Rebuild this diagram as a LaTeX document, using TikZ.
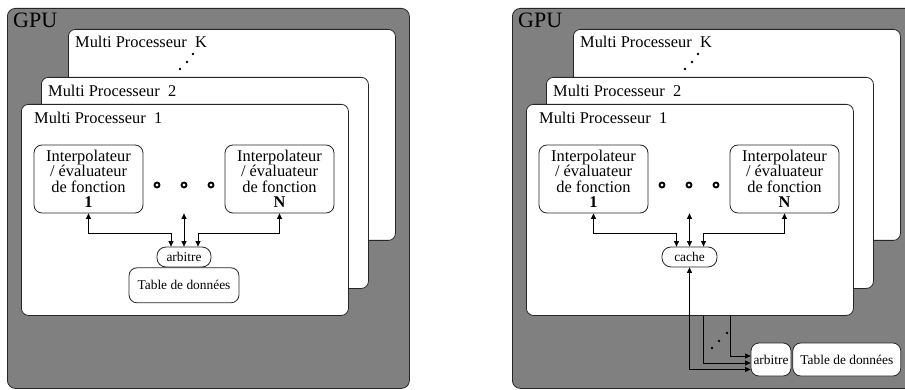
\documentclass[tikz,border=0pt]{standalone}
\usepackage{fontspec}
\setmainfont{Liberation Serif}
\usetikzlibrary{positioning, calc, arrows.meta}

\begin{document}
\begin{tikzpicture}[
        x=1pt, y=-1pt,
        gpubox/.style={rectangle, draw=black!85, fill=black!50, rounded corners=8pt, line width=0.8pt, minimum width=402pt, minimum height=380pt, anchor=north west, inner sep=0pt},
        mpbox/.style={rectangle, draw=black!85, fill=white, rounded corners=7pt, line width=0.8pt, minimum width=327pt, minimum height=211pt, anchor=north west, inner sep=0pt},
        fbox/.style={rectangle, draw=black!85, fill=white, rounded corners=8pt, line width=0.8pt, minimum width=109pt, minimum height=68pt, inner sep=1pt, align=center, font=\fontsize{16.4}{15.5}\selectfont},
        smallbox/.style={rectangle, draw=black!85, fill=white, rounded corners=8pt, line width=0.8pt, inner sep=1pt, font=\fontsize{13.4}{14}\selectfont},
        gputext/.style={anchor=base west, inner sep=0pt, font=\fontsize{22}{22}\selectfont},
        mptext/.style={anchor=base west, inner sep=0pt, font=\fontsize{16.4}{16}\selectfont},
        ring/.style={line width=1.8pt},
        arrow/.style={-{Triangle[length=5.5pt,width=5pt]}, line width=0.7pt},
        biarrow/.style={{Triangle[length=5.5pt,width=5pt]}-{Triangle[length=5.5pt,width=5pt]}, line width=0.7pt}
        ]
        \useasboundingbox (0,0) rectangle (905,390);

        % left: arbitre inside the multiprocessor
        \node[gpubox] (gpuL) at (7,8) {};
        \node[gputext] (gpuLt) at ($(gpuL.north west)+(6,20)$) {GPU};
        \node[mpbox] (mpKL) at (68,29) {};
        \node[mptext] (mpKLt) at ($(mpKL.north west)+(7,19)$) {Multi Processeur\ \ K};
        \fill (180,69) circle (1.3) (187,62) circle (1.3) (193,54) circle (1.3);
        \node[mpbox] (mp2L) at (41,77) {};
        \node[mptext] (mp2Lt) at ($(mp2L.north west)+(7,20)$) {Multi Processeur\ \ 2};
        \node[mpbox] (mp1L) at (21,104) {};
        \node[mptext] (mp1Lt) at ($(mp1L.north west)+(13,20)$) {Multi Processeur\ \ 1};

        \node[fbox] (i1L) at (88.5,179) {Interpolateur\\/ évaluateur\\de fonction\\\textbf{1}};
        \node[fbox] (iNL) at (279.5,179) {Interpolateur\\/ évaluateur\\de fonction\\\textbf{N}};
        \draw[ring] (157,185) circle (2.5) (184,185) circle (2.5) (211,185) circle (2.5);

        \node[smallbox, minimum width=54pt, minimum height=20pt, rounded corners=9pt] (arbL) at (184,257) {arbitre};
        \node[smallbox, minimum width=110pt, minimum height=35pt, below=0pt of arbL] (tabL) {Table de données};
        \coordinate (midL) at (arbL.north |- i1L.south);

        \draw[biarrow] (i1L.south) -- ++(0,20) -| ([xshift=-13pt]arbL.north);
        \draw[biarrow] (midL) -- (arbL.north);
        \draw[biarrow] (iNL.south) -- ++(0,20) -| ([xshift=14pt]arbL.north);

        % right: cache inside, arbitre shared outside
        \node[gpubox] (gpuR) at (512,8) {};
        \node[gputext] (gpuRt) at ($(gpuR.north west)+(6,20)$) {GPU};
        \node[mpbox] (mpKR) at (573,29) {};
        \node[mptext] (mpKRt) at ($(mpKR.north west)+(7,19)$) {Multi Processeur\ \ K};
        \fill (685,69) circle (1.3) (692,62) circle (1.3) (698,54) circle (1.3);
        \node[mpbox] (mp2R) at (546,77) {};
        \node[mptext] (mp2Rt) at ($(mp2R.north west)+(7,20)$) {Multi Processeur\ \ 2};
        \node[mpbox] (mp1R) at (526,104) {};
        \node[mptext] (mp1Rt) at ($(mp1R.north west)+(13,20)$) {Multi Processeur\ \ 1};

        \node[fbox] (i1R) at (593.5,179) {Interpolateur\\/ évaluateur\\de fonction\\\textbf{1}};
        \node[fbox] (iNR) at (784.5,179) {Interpolateur\\/ évaluateur\\de fonction\\\textbf{N}};
        \draw[ring] (662,185) circle (2.5) (689,185) circle (2.5) (716,185) circle (2.5);

        \node[smallbox, minimum width=55pt, minimum height=20pt, rounded corners=9pt] (cacheR) at (689.5,257) {cache};
        \coordinate (midR) at (cacheR.north |- i1R.south);

        \draw[biarrow] (i1R.south) -- ++(0,20) -| ([xshift=-13pt]cacheR.north);
        \draw[biarrow] (midR) -- (cacheR.north);
        \draw[biarrow] (iNR.south) -- ++(0,20) -| ([xshift=14pt]cacheR.north);

        \node[smallbox, minimum width=40pt, minimum height=33pt] (arbR) at (771,359.5) {arbitre};
        \node[smallbox, minimum width=108pt, minimum height=33pt, right=1pt of arbR] (tabR) {Table de données};

        \draw[biarrow] (cacheR.south) |- ([yshift=-10pt]arbR.west);
        \draw[arrow] ([xshift=13.5pt]mp1R.south) |- ([yshift=-3.5pt]arbR.west);
        \draw[arrow] ([xshift=40.5pt]mp1R.south) |- ([yshift=3.5pt]arbR.west);
        \fill (712,348) circle (1.3) (719,341) circle (1.3) (727,333) circle (1.3);
    \end{tikzpicture}
\end{document}
